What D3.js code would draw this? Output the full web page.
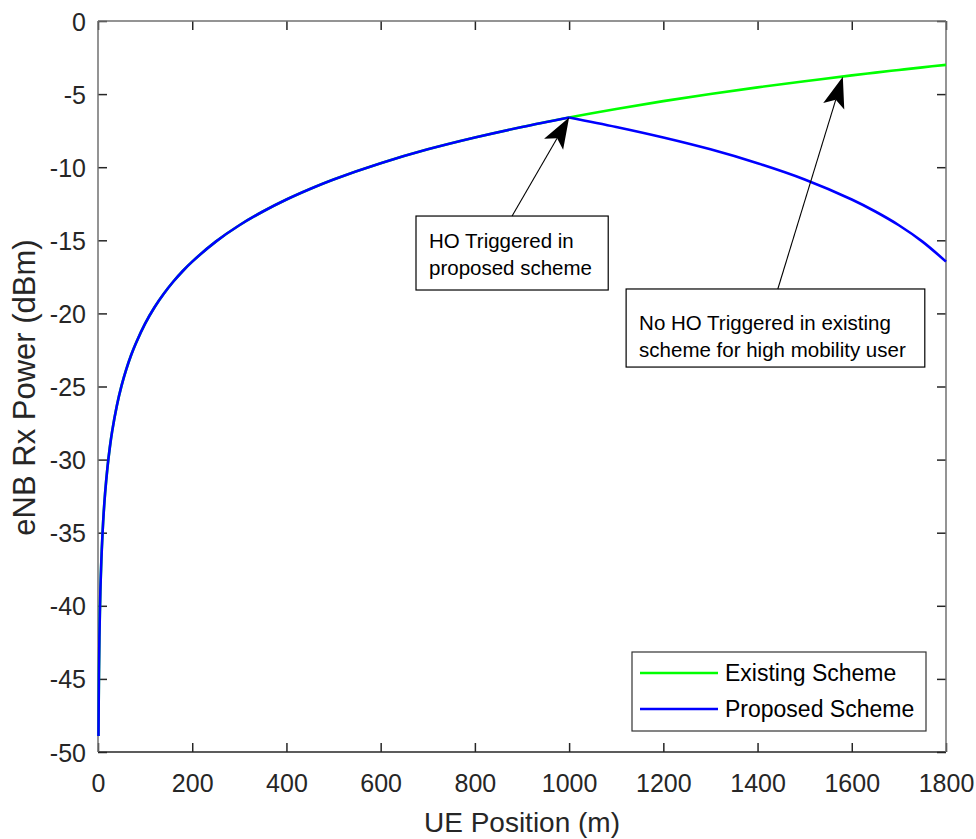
<!DOCTYPE html>
<html><head><meta charset="utf-8">
<script src="https://cdn.jsdelivr.net/npm/d3@7"></script>
<style>body{margin:0;background:#fff}svg{display:block}text{font-family:"Liberation Sans",Arial,Helvetica,sans-serif}</style>
</head><body><svg id="c" width="976" height="839"></svg>
<script>
// ---- data ----
const positionsLow = [1,2,3,4,5,6,8,10,12,15,20,25,30,40,50,60,70,80,100,120,140,160,180,200,250,300,350,400,450,500,600,700,800,900,1000];
const rxLow = [-48.90,-44.66,-42.17,-40.41,-39.04,-37.93,-36.17,-34.80,-33.68,-32.32,-30.56,-29.19,-28.07,-26.31,-24.94,-23.83,-22.88,-22.07,-20.70,-19.58,-18.64,-17.82,-17.10,-16.46,-15.09,-13.97,-13.03,-12.21,-11.49,-10.84,-9.73,-8.78,-7.97,-7.25,-6.60];
const positionsHigh = [1100,1200,1300,1400,1500,1600,1650,1700,1750,1800];
const existingHigh = [-6.02,-5.48,-4.99,-4.54,-4.12,-3.72,-3.53,-3.35,-3.17,-3.00];
const proposedHigh = [-7.25,-7.97,-8.78,-9.73,-10.84,-12.21,-13.03,-13.97,-15.09,-16.46];
const xTicks = [0,200,400,600,800,1000,1200,1400,1600,1800];
const yTicks = [0,-5,-10,-15,-20,-25,-30,-35,-40,-45,-50];
const seriesNames = ["Existing Scheme","Proposed Scheme"];
const xLabel = "UE Position (m)";
const yLabel = "eNB Rx Power (dBm)";
const noteLines = [["HO Triggered in","proposed scheme"],["No HO Triggered in existing","scheme for high mobility user"]];
const noteTips = [[1000,-6.6],[1581,-3.81]];
const noteTails = [[879,-13.34],[1443,-18.33]];
const noteBoxes = [[675,-13.34,1083,-18.4],[1121,-18.33,1755,-23.67]];

// ---- build series ----
const lowPart = positionsLow.map((x,i)=>({x,y:rxLow[i]}));
const peak = lowPart[lowPart.length-1];
const existingTail = [peak].concat(positionsHigh.map((x,i)=>({x,y:existingHigh[i]})));
const proposedTail = [peak].concat(positionsHigh.map((x,i)=>({x,y:proposedHigh[i]})));
const colors = ["#00ff00","#0000ff"];

const svg = d3.select("#c");
const L=98, R=946, T=21, B=752;
const x = d3.scaleLinear().domain([0,1800]).range([L,R]);
const y = d3.scaleLinear().domain([-50,0]).range([B,T]);
const axisCol = "#262626";

const fmt = d => String(d);
const gx = svg.append("g").attr("transform",`translate(0,${B})`)
  .call(d3.axisBottom(x).tickValues(xTicks).tickFormat(fmt).tickSize(-9).tickPadding(22));
const gy = svg.append("g").attr("transform",`translate(${L},0)`)
  .call(d3.axisLeft(y).tickValues(yTicks).tickFormat(fmt).tickSize(-9).tickPadding(12));
const gt = svg.append("g").attr("transform",`translate(0,${T})`)
  .call(d3.axisTop(x).tickValues(xTicks).tickFormat("").tickSize(-9));
const gr = svg.append("g").attr("transform",`translate(${R},0)`)
  .call(d3.axisRight(y).tickValues(yTicks).tickFormat("").tickSize(-9));
[gx,gy,gt,gr].forEach(g=>{
  g.select(".domain").remove();
  g.selectAll(".tick line").attr("stroke",axisCol).attr("stroke-width",1.5);
  g.selectAll(".tick text").attr("fill",axisCol).attr("font-size",25).attr("font-family","'Liberation Sans',Arial,sans-serif");
});
gx.selectAll(".tick text").attr("dy","0.71em");
gy.selectAll(".tick text").attr("dy","0.36em");

// box lines
svg.append("line").attr("x1",L).attr("x2",R).attr("y1",B).attr("y2",B).attr("stroke",axisCol).attr("stroke-width",1.5);
svg.append("line").attr("x1",L).attr("x2",L).attr("y1",T).attr("y2",B).attr("stroke","#707070").attr("stroke-width",1.5);
svg.append("line").attr("x1",L).attr("x2",R).attr("y1",T).attr("y2",T).attr("stroke","#707070").attr("stroke-width",1.5);
svg.append("line").attr("x1",R).attr("x2",R).attr("y1",T).attr("y2",B).attr("stroke","#707070").attr("stroke-width",1.5);

// lines
const line = d3.line().x(d=>x(d.x)).y(d=>y(d.y)).curve(d3.curveCatmullRom.alpha(0.5));
const draw = (data,col)=>svg.append("path").datum(data).attr("d",line).attr("fill","none").attr("stroke",col).attr("stroke-width",2.6).attr("stroke-linejoin","round").attr("stroke-linecap","butt");
draw(lowPart.concat(existingTail.slice(1)), colors[0]);
draw(lowPart, colors[1]);
draw(proposedTail, colors[1]);

// axis labels
svg.append("text").attr("x",(L+R)/2).attr("y",832).attr("text-anchor","middle").attr("font-size",28).attr("fill",axisCol).text(xLabel);
svg.append("text").attr("transform",`translate(35,${(T+B)/2+1}) rotate(-90)`).attr("text-anchor","middle").attr("font-size",31).attr("fill",axisCol).text(yLabel);

// annotations
noteBoxes.forEach((b,i)=>{
  const x0=x(b[0]), y0=y(b[1]), x1=x(b[2]), y1=y(b[3]);
  svg.append("rect").attr("x",x0).attr("y",y0).attr("width",x1-x0).attr("height",y1-y0).attr("fill","#fff").attr("stroke","#000").attr("stroke-width",1.2);
  noteLines[i].forEach((t,j)=>{
    svg.append("text").attr("x",x0+13).attr("y",y0+(i===0?32:41)+j*27).attr("font-size",20.5).attr("fill","#000").text(t);
  });
  const tip=[x(noteTips[i][0]),y(noteTips[i][1])], tail=[x(noteTails[i][0]),y(noteTails[i][1])];
  const dx=tail[0]-tip[0], dy=tail[1]-tip[1], len=Math.hypot(dx,dy);
  const ux=dx/len, uy=dy/len, nx=-uy, ny=ux;
  const HL=31, HW=11, NT=24;
  svg.append("line").attr("x1",tail[0]).attr("y1",tail[1]).attr("x2",tip[0]+ux*NT).attr("y2",tip[1]+uy*NT).attr("stroke","#000").attr("stroke-width",1.1);
  const pts=[[tip[0],tip[1]],[tip[0]+ux*HL+nx*HW,tip[1]+uy*HL+ny*HW],[tip[0]+ux*NT,tip[1]+uy*NT],[tip[0]+ux*HL-nx*HW,tip[1]+uy*HL-ny*HW]];
  svg.append("path").attr("d","M"+pts.map(p=>p.join(",")).join("L")+"Z").attr("fill","#000");
});

// legend
const lg = svg.append("g");
lg.append("rect").attr("x",632).attr("y",652).attr("width",294).attr("height",79).attr("fill","#fff").attr("stroke","#333").attr("stroke-width",1.2);
seriesNames.forEach((n,i)=>{
  const yy = 673 + i*36;
  lg.append("line").attr("x1",640).attr("x2",718).attr("y1",yy).attr("y2",yy).attr("stroke",colors[i]).attr("stroke-width",2.6);
  lg.append("text").attr("x",725).attr("y",yy).attr("dy","0.35em").attr("font-size",23).attr("fill","#000").text(n);
});
</script></body></html>
